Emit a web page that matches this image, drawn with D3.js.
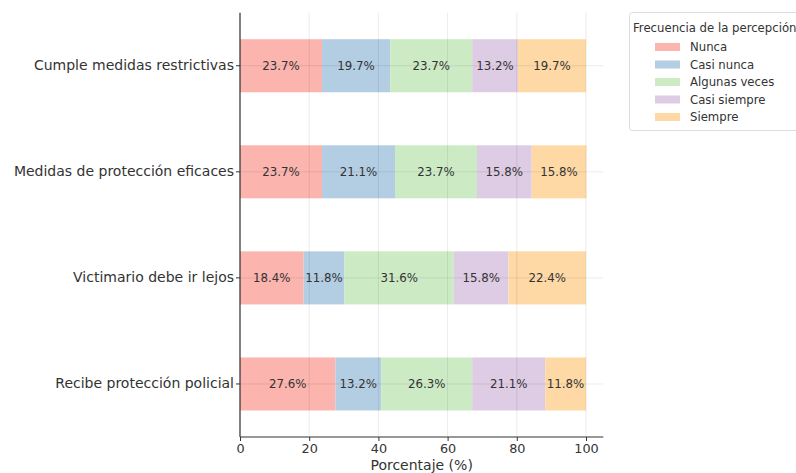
<!DOCTYPE html>
<html>
<head>
<meta charset="utf-8">
<script src="https://cdn.jsdelivr.net/npm/d3@7"></script>
<style>
  html, body { margin: 0; padding: 0; background: #fff; }
  svg { display: block; font-family: "DejaVu Sans", sans-serif; }
</style>
</head>
<body>
<svg id="chart" width="796" height="473"></svg>
<script>
const categories = [
  "Cumple medidas restrictivas",
  "Medidas de protección eficaces",
  "Victimario debe ir lejos",
  "Recibe protección policial"
];
const seriesNames = ["Nunca", "Casi nunca", "Algunas veces", "Casi siempre", "Siempre"];
const nunca        = [23.7, 23.7, 18.4, 27.6];
const casiNunca    = [19.7, 21.1, 11.8, 13.2];
const algunasVeces = [23.7, 23.7, 31.6, 26.3];
const casiSiempre  = [13.2, 15.8, 15.8, 21.1];
const siempre      = [19.7, 15.8, 22.4, 11.8];
const xTicks = [0, 20, 40, 60, 80, 100];
const colors = ["#fbb4ae", "#b3cde3", "#ccebc5", "#decbe4", "#fed9a6"];
const legendTitle = "Frecuencia de la percepción";
const xLabel = "Porcentaje (%)";

const seriesValues = [nunca, casiNunca, algunasVeces, casiSiempre, siempre];
const rows = categories.map((c, i) => {
  const r = { cat: c };
  seriesNames.forEach((s, j) => r[s] = seriesValues[j][i]);
  return r;
});
const stacked = d3.stack().keys(seriesNames)(rows);

const svg = d3.select("#chart");
const pLeft = 240, pRight = 603.3, pTop = 12.7, pBottom = 437;

const x = d3.scaleLinear().domain([0, 105]).range([pLeft, pRight]);
const y = d3.scaleBand().domain(categories).range([pTop, pBottom]).paddingInner(0.5).paddingOuter(0.25);

// bars
const g = svg.append("g");
stacked.forEach((layer, j) => {
  g.selectAll(null).data(layer).enter().append("rect")
    .attr("x", d => x(d[0]))
    .attr("y", d => y(d.data.cat))
    .attr("width", d => x(d[1]) - x(d[0]))
    .attr("height", y.bandwidth())
    .attr("fill", colors[j]);
});

// grid (on top, light)
const grid = svg.append("g").attr("stroke", "#000").attr("stroke-opacity", 0.1).attr("stroke-width", 0.8);
xTicks.forEach(t => {
  grid.append("line").attr("x1", x(t)).attr("x2", x(t)).attr("y1", pTop).attr("y2", pBottom);
});
categories.forEach(c => {
  const cy = y(c) + y.bandwidth() / 2;
  grid.append("line").attr("x1", pLeft).attr("x2", pRight).attr("y1", cy).attr("y2", cy);
});

// labels
stacked.forEach((layer, j) => {
  svg.append("g").selectAll(null).data(layer).enter().append("text")
    .attr("x", d => (x(d[0]) + x(d[1])) / 2)
    .attr("y", d => y(d.data.cat) + y.bandwidth() / 2)
    .attr("text-anchor", "middle")
    .attr("dominant-baseline", "central")
    .attr("font-size", 11.8)
    .attr("fill", "#333")
    .text(d => (d[1] - d[0]).toFixed(1) + "%");
});

// x axis
const xAxis = d3.axisBottom(x).tickValues(xTicks).tickSize(4).tickPadding(3).tickFormat(d3.format("d"));
const xg = svg.append("g").attr("transform", `translate(0,${pBottom})`).call(xAxis);
xg.select(".domain").attr("stroke", "#333").attr("stroke-width", 1.2).attr("d", `M${pLeft},0H${pRight}`);
xg.selectAll(".tick line").attr("stroke", "#333");
xg.selectAll(".tick text").attr("font-size", 12.8).attr("fill", "#333").attr("font-family", "DejaVu Sans");

// y axis
const yAxis = d3.axisLeft(y).tickSize(4).tickPadding(2);
const yg = svg.append("g").attr("transform", `translate(${pLeft},0)`).call(yAxis);
yg.select(".domain").attr("stroke", "#333").attr("stroke-width", 1.2).attr("d", `M0,${pTop}V${pBottom}`);
yg.selectAll(".tick line").attr("stroke", "#333");
yg.selectAll(".tick text").attr("font-size", 14).attr("fill", "#333").attr("font-family", "DejaVu Sans");

svg.append("text")
  .attr("x", (x(0) + x(105)) / 2).attr("y", 470)
  .attr("text-anchor", "middle").attr("font-size", 14).attr("fill", "#333")
  .text(xLabel);

// legend
const lg = svg.append("g");
lg.append("rect").attr("x", 629.5).attr("y", 12.5).attr("width", 180).attr("height", 118)
  .attr("rx", 3).attr("fill", "#fff").attr("stroke", "#ddd");
lg.append("text").attr("x", 633).attr("y", 32).attr("font-size", 11.7).attr("fill", "#333").text(legendTitle);
seriesNames.forEach((s, j) => {
  const cy = 47 + j * 17.5;
  lg.append("rect").attr("x", 655).attr("y", cy - 4).attr("width", 25).attr("height", 8).attr("fill", colors[j]);
  lg.append("text").attr("x", 690).attr("y", cy).attr("dominant-baseline", "central")
    .attr("font-size", 11.7).attr("fill", "#333").text(s);
});
</script>
</body>
</html>
